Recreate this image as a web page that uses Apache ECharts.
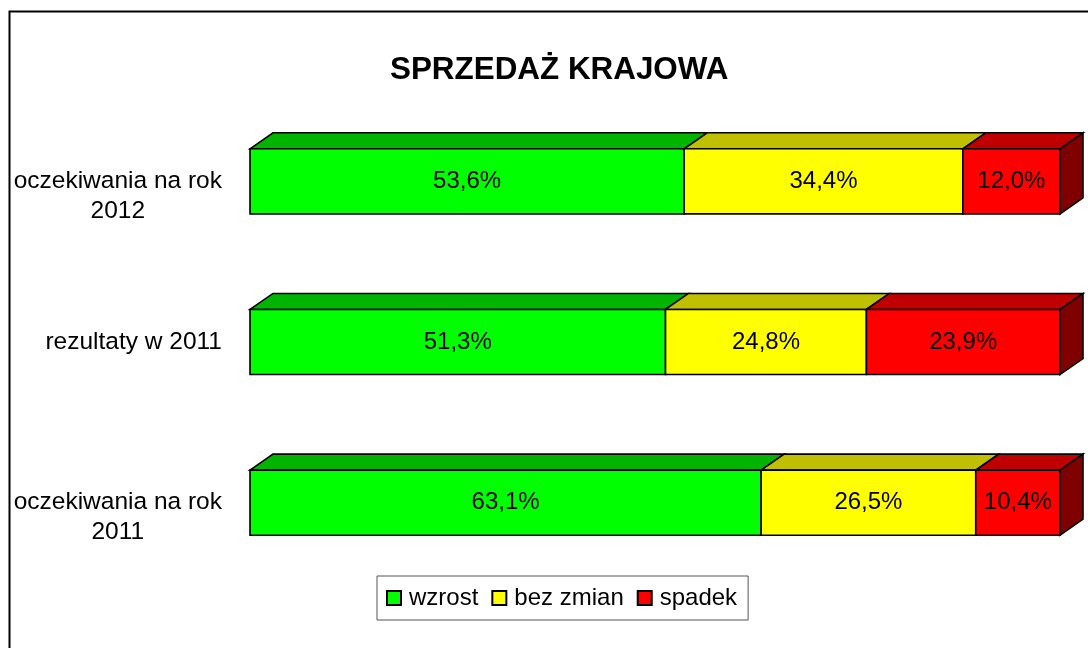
<!DOCTYPE html>
<html>
<head>
<meta charset="utf-8">
<script src="https://cdn.jsdelivr.net/npm/echarts@6/dist/echarts.min.js"></script>
<style>
  html,body{margin:0;padding:0;background:#fff;}
  #main{width:1088px;height:648px;}
</style>
</head>
<body>
<div id="main"></div>
<script>
// dane
let kategorie = ['oczekiwania na rok\n2012', 'rezultaty w 2011', 'oczekiwania na rok\n2011'];
let wzrost = [53.6, 51.3, 63.1];
let bezZmian = [34.4, 24.8, 26.5];
let spadek = [12.0, 23.9, 10.4];

let nazwy = ['wzrost', 'bez zmian', 'spadek'];
let kolory = ['#00ff00', '#ffff00', '#ff0000'];
let koloryGora = ['#00b400', '#c0c000', '#c00000'];
let kolorBok = '#800000';
let czcionka = '"Liberation Sans", Arial, sans-serif';

// poczatek i koniec kazdego odcinka (stos)
function zrobDane(serie){
  let wynik = [[], [], []];
  for (let k = 0; k < kategorie.length; k++) {
    let suma = 0;
    serie.forEach(function(s, i){
      wynik[i].push([suma, suma + s[k], k, s[k]]);
      suma += s[k];
    });
  }
  return wynik;
}
let dane = zrobDane([wzrost, bezZmian, spadek]);

const dx = 23, dy = 16;

function rysuj(idx){
  return function(params, api){
    let a = api.coord([api.value(0), api.value(2)]);
    let b = api.coord([api.value(1), api.value(2)]);
    let h = api.size([0, 1])[1] * 0.405;
    let top = a[1] - h / 2, bot = a[1] + h / 2;
    let x0 = a[0], x1 = b[0];
    let lin = {stroke: '#000', lineWidth: 1.6};
    let dzieci = [
      {type: 'polygon', shape: {points: [[x0, top], [x0 + dx, top - dy], [x1 + dx, top - dy], [x1, top]]},
        style: Object.assign({fill: koloryGora[idx]}, lin)},
      {type: 'rect', shape: {x: x0, y: top, width: x1 - x0, height: h},
        style: Object.assign({fill: kolory[idx]}, lin)}
    ];
    if (idx === 2) {
      dzieci.push({type: 'polygon', shape: {points: [[x1, top], [x1 + dx, top - dy], [x1 + dx, bot - dy], [x1, bot]]},
        style: Object.assign({fill: kolorBok}, lin)});
    }
    dzieci.push({type: 'text', style: {
      text: api.value(3).toFixed(1).replace('.', ',') + '%',
      x: (x0 + x1) / 2, y: a[1], align: 'center', verticalAlign: 'middle',
      fill: '#000', font: '24px ' + czcionka
    }});
    return {type: 'group', children: dzieci};
  };
}

var myChart = echarts.init(document.getElementById('main'));
myChart.setOption({
  animation: false,
  backgroundColor: '#fff',
  title: {
    text: 'SPRZEDAŻ KRAJOWA',
    left: 385, top: 50,
    textStyle: {fontSize: 31.4, fontWeight: 'bold', color: '#000', fontFamily: czcionka}
  },
  legend: {
    data: nazwy,
    left: 377, top: 576,
    padding: [10, 11, 10, 9],
    borderColor: '#555', borderWidth: 1,
    itemWidth: 14, itemHeight: 14, itemGap: 13,
    icon: 'rect',
    textStyle: {fontSize: 24, color: '#000', fontFamily: czcionka, padding: [0, 0, 0, 3]}
  },
  grid: {left: 250, right: 28, top: 101, bottom: 65},
  xAxis: {type: 'value', min: 0, max: 100, show: false},
  yAxis: {
    type: 'category', data: kategorie, inverse: true,
    axisLine: {show: false}, axisTick: {show: false}, splitLine: {show: false},
    axisLabel: {
      margin: 28, color: '#000',
      formatter: function(v){
        let linie = v.split('\n');
        let s = linie.map(function(l){ return '{c|' + l + '}'; }).join('\n');
        if (linie.length > 1) s = '{c| }\n' + s;
        return s;
      },
      rich: {c: {align: 'center', fontSize: 24.5, lineHeight: 30, color: '#000', fontFamily: czcionka}}
    }
  },
  series: nazwy.map(function(n, i){
    return {
      name: n, type: 'custom',
      renderItem: rysuj(i),
      itemStyle: {color: kolory[i], borderColor: '#000', borderWidth: 1.5},
      encode: {x: [0, 1], y: 2},
      data: dane[i]
    };
  }),
  graphic: [{
    type: 'rect', left: 7, top: 9,
    shape: {width: 1100, height: 700},
    style: {fill: null, stroke: '#000', lineWidth: 2},
    z: -1
  }]
});
</script>
</body>
</html>
